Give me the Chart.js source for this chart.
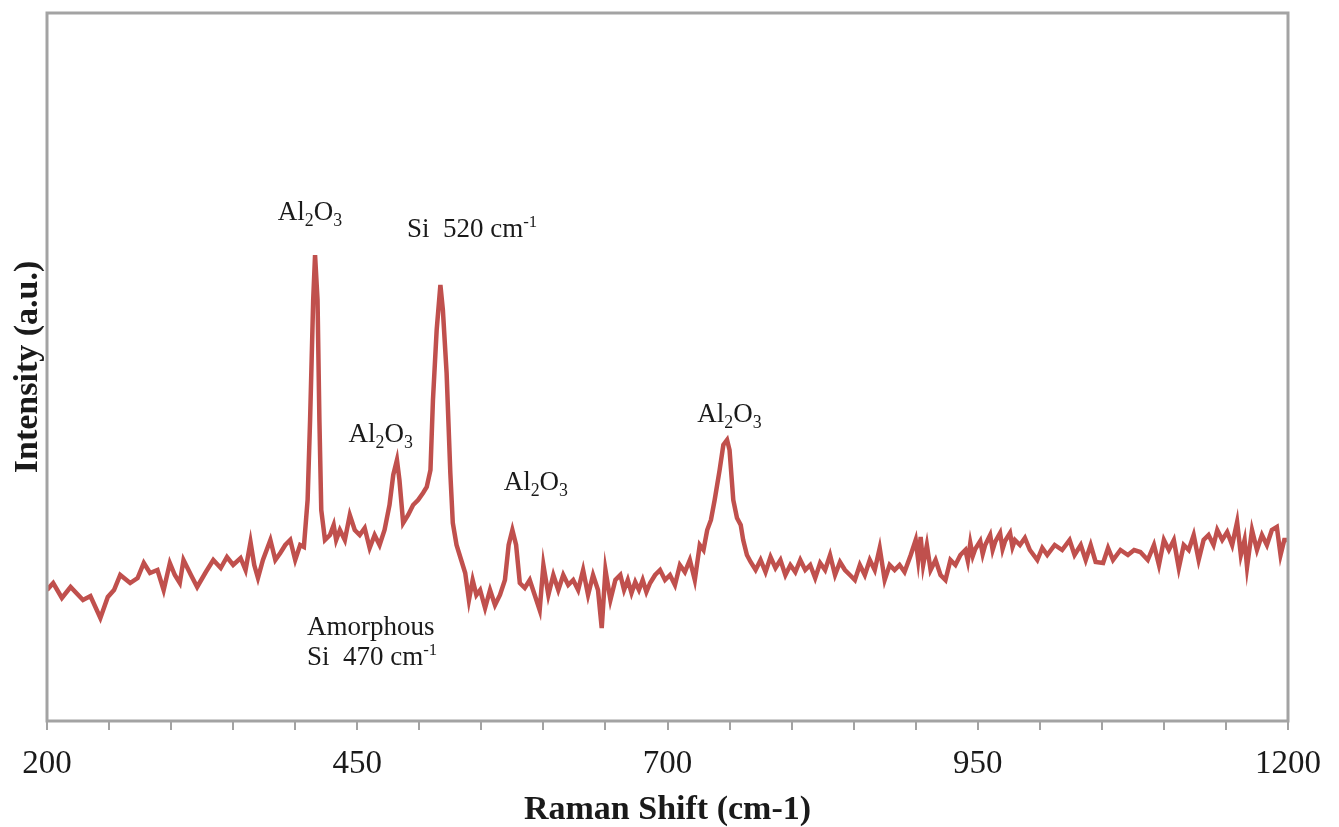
<!DOCTYPE html>
<html>
<head>
<meta charset="utf-8">
<script src="https://cdn.jsdelivr.net/npm/chart.js@4.4.0/dist/chart.umd.min.js"></script>
<style>
  html, body { margin: 0; padding: 0; background: #fff; }
</style>
</head>
<body>
<canvas id="raman" width="1339" height="827"></canvas>
<script>
// ── Data ──
const ramanShift = [
  200, 205, 212, 219, 229, 235, 243, 249, 254, 259, 267, 273, 278, 283, 289, 294, 299,
  303, 307, 310, 316, 321, 328, 334, 340, 345, 350, 356, 360, 364, 367, 370, 374, 380,
  384, 388, 392, 396, 400, 404, 407, 410, 412, 414.5, 416, 418, 419.5, 421, 424, 428,
  431, 433, 436, 440, 444, 448, 452, 456, 460, 464, 468, 472, 476, 479, 482, 484, 487,
  491, 495, 499, 503, 506, 509, 511, 514, 517, 519, 522, 525, 527, 530, 533, 537, 540,
  543, 546, 549, 553, 557, 561, 565, 569, 572, 575, 578, 581, 585, 589, 593, 597, 600,
  604, 608, 612, 616, 620, 624, 628, 632, 636, 640, 644, 647, 650, 654, 658, 662, 665,
  668, 671, 674, 677, 680, 683, 686, 690, 694, 698, 702, 706, 710, 714, 718, 722, 726,
  729, 732, 735, 738, 742, 745, 748, 750, 753, 756, 759, 761, 764, 767, 771, 775, 779,
  783, 787, 791, 795, 799, 803, 807, 811, 815, 819, 823, 827, 831, 835, 839, 843, 847,
  851, 855, 859, 863, 867, 871, 875, 879, 883, 887, 891, 896, 900, 902, 904, 906, 909,
  912, 916, 920, 924, 928, 932, 936, 940, 942, 944, 946, 948, 952, 954, 956, 960, 962,
  964, 968, 970, 972, 976, 978, 980, 984, 988, 992, 998, 1002, 1006, 1012, 1018, 1024,
  1028, 1033, 1037, 1041, 1045, 1051, 1055, 1059, 1065, 1071, 1076, 1081, 1087, 1092,
  1096, 1100, 1104, 1108, 1112, 1116, 1120, 1124, 1128, 1132, 1136, 1140, 1143, 1147,
  1151, 1155, 1159, 1162, 1165, 1167, 1171, 1175, 1179, 1183, 1187, 1191, 1194, 1197,
  1200,
];

const intensity = [
  131, 138, 123, 134, 121, 125, 103, 124, 131, 146, 138, 143, 158, 148, 151, 131, 158,
  146, 138, 161, 146, 134, 149, 161, 153, 164, 156, 163, 151, 179, 156, 143, 161, 181,
  161, 168, 176, 181, 161, 176, 174, 221, 301, 421, 466, 421, 301, 211, 181, 186,
  196, 181, 191, 181, 206, 191, 186, 193, 173, 186, 176, 191, 216, 246, 261, 241, 198,
  206, 216, 221, 228, 234, 251, 321, 391, 436, 411, 348, 248, 198, 176, 164, 148, 121,
  141, 126, 131, 113, 131, 116, 126, 141, 176, 191, 176, 138, 133, 141, 126, 111, 156,
  126, 146, 131, 146, 136, 141, 131, 151, 126, 146, 131, 93, 151, 121, 141, 146, 131,
  141, 128, 139, 131, 141, 129, 138, 146, 151, 141, 146, 136, 156, 149, 161, 141, 176,
  171, 191, 201, 221, 251, 276, 281, 271, 221, 203, 196, 181, 166, 159, 151, 161, 149,
  164, 153, 161, 146, 156, 149, 161, 151, 156, 143, 158, 151, 166, 146, 159, 151, 146,
  141, 156, 146, 161, 151, 173, 141, 156, 151, 156, 149, 166, 181, 161, 184, 156, 176,
  151, 161, 146, 141, 161, 156, 166, 171, 160, 178, 165, 172, 180, 167, 176, 186, 171,
  179, 188, 172, 180, 188, 174, 181, 176, 183, 171, 161, 173, 166, 176, 171, 181,
  166, 176, 161, 176, 159, 158, 173, 161, 171, 166, 171, 169, 161, 176,
  156, 181, 171, 181, 153, 176, 171, 186, 161, 181, 186, 176, 191, 181,
  189, 176, 199, 166, 181, 154, 191, 171, 186, 176, 191, 194, 166, 181,
  181,
];

const labelledTicks = [200, 450, 700, 950, 1200];

// peak labels: anchor = left end of the text baseline, in data units
const notes = [
  { shift: 386, level: 501, parts: [['Al'], ['2', 'sub'], ['O'], ['3', 'sub']] },
  { shift: 490, level: 484, parts: [['Si  520 cm'], ['-1', 'sup']] },
  { shift: 443, level: 279, parts: [['Al'], ['2', 'sub'], ['O'], ['3', 'sub']] },
  { shift: 568, level: 231, parts: [['Al'], ['2', 'sub'], ['O'], ['3', 'sub']] },
  { shift: 724, level: 299, parts: [['Al'], ['2', 'sub'], ['O'], ['3', 'sub']] },
  { shift: 409.5, level: 86, parts: [['Amorphous']] },
  { shift: 409.5, level: 56, parts: [['Si  470 cm'], ['-1', 'sup']] },
];

const SERIF = '"Liberation Serif", "Times New Roman", serif';
const FRAME = '#a3a3a3';

// ── Plugins ──
const frame = {
  id: 'frame',
  afterDatasetsDraw(chart) {
    const { ctx, chartArea: a } = chart;
    ctx.save();
    ctx.strokeStyle = FRAME;
    ctx.lineWidth = 3;
    ctx.strokeRect(a.left, a.top, a.right - a.left, a.bottom - a.top);
    ctx.restore();
  },
};

const peakNotes = {
  id: 'peakNotes',
  afterDraw(chart) {
    const { ctx, scales } = chart;
    const size = 27;
    ctx.save();
    ctx.fillStyle = '#1a1a1a';
    ctx.textBaseline = 'alphabetic';
    for (const n of notes) {
      let x = scales.x.getPixelForValue(n.shift);
      const y = scales.y.getPixelForValue(n.level);
      for (const [txt, kind] of n.parts) {
        let fs = size, dy = 0;
        if (kind === 'sub') { fs = size * 0.66; dy = size * 0.24; }
        if (kind === 'sup') { fs = size * 0.62; dy = -size * 0.38; }
        ctx.font = `${fs}px ${SERIF}`;
        ctx.fillText(txt, x, y + dy);
        x += ctx.measureText(txt).width;
      }
    }
    ctx.restore();
  },
};

// ── Chart ──
new Chart(document.getElementById('raman'), {
  type: 'line',
  data: {
    datasets: [{
      data: ramanShift.map((s, i) => ({ x: s, y: intensity[i] })),
      borderColor: '#c0504d',
      borderWidth: 4.5,
      pointRadius: 0,
      tension: 0,
      fill: false,
    }],
  },
  options: {
    responsive: false,
    animation: false,
    layout: { padding: { top: 13, right: 51, left: 0, bottom: 0 } },
    plugins: { legend: { display: false }, tooltip: { enabled: false } },
    scales: {
      x: {
        type: 'linear', min: 200, max: 1200,
        afterFit: s => { s.height = 106; },
        border: { display: false },
        grid: { drawOnChartArea: false, drawTicks: true, tickLength: 9, color: FRAME, lineWidth: 2 },
        ticks: {
          stepSize: 50, autoSkip: false, maxRotation: 0, padding: 15,
          color: '#1a1a1a', font: { family: SERIF, size: 33 },
          callback: v => labelledTicks.includes(v) ? String(v) : '',
        },
        title: {
          display: true, text: 'Raman Shift (cm-1)', color: '#1a1a1a',
          font: { family: SERIF, size: 34, weight: 'bold', lineHeight: 1 },
          padding: 0,
        },
      },
      y: {
        min: 0, max: 708,
        afterFit: s => { s.width = 47; },
        border: { display: false },
        grid: { display: false },
        ticks: { display: false },
        title: {
          display: true, text: 'Intensity (a.u.)', color: '#1a1a1a',
          font: { family: SERIF, size: 34, weight: 'bold', lineHeight: 1 },
          padding: { top: 11, bottom: 0 },
        },
      },
    },
  },
  plugins: [frame, peakNotes],
});
</script>
</body>
</html>
